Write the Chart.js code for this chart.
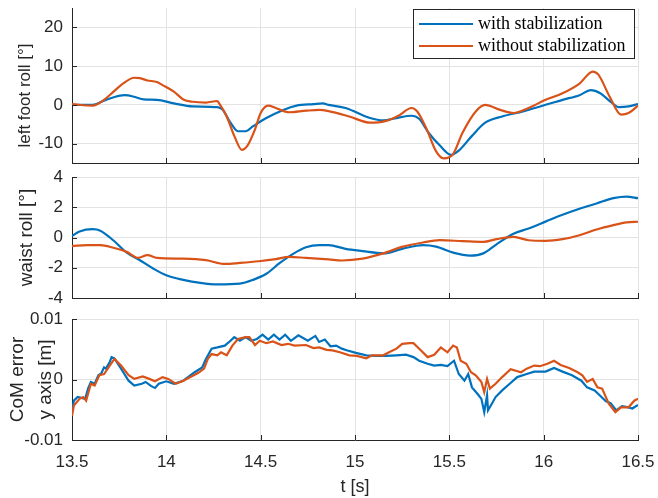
<!DOCTYPE html>
<html>
<head>
<meta charset="utf-8">
<script src="https://cdn.jsdelivr.net/npm/chart.js@4.4.1/dist/chart.umd.min.js"></script>
<style>
  html, body { margin: 0; padding: 0; background: #fff; }
  #wrap { position: relative; width: 658px; height: 498px; overflow: hidden; }
  #wrap canvas { position: absolute; left: 0; }
</style>
</head>
<body>
<div id="wrap">
  <canvas id="footChart" width="658" height="170" style="top:0px;width:658px;height:170px"></canvas>
  <canvas id="waistChart" width="658" height="150" style="top:160px;width:658px;height:150px"></canvas>
  <canvas id="comChart" width="658" height="193" style="top:305px;width:658px;height:193px"></canvas>
</div>
<script>
// --- Data ---
const seriesLabels = ['with stabilization', 'without stabilization'];
const xTicks = [13.5, 14, 14.5, 15, 15.5, 16, 16.5];
const footTicks = [-10, 0, 10, 20];
const waistTicks = [-4, -2, 0, 2, 4];
const comTicks = [-0.01, 0, 0.01];

// left foot roll [deg]
const footWithT = [13.5, 13.61, 13.68, 13.78, 13.83, 13.88, 13.95, 14.04, 14.14, 14.27, 14.30, 14.34, 14.38, 14.42, 14.46, 14.53, 14.62, 14.69, 14.78, 14.83, 14.86, 14.95, 15.08, 15.15, 15.22, 15.30, 15.34, 15.39, 15.45, 15.51, 15.55, 15.62, 15.69, 15.78, 15.89, 15.99, 16.10, 16.19, 16.25, 16.30, 16.35, 16.40, 16.45, 16.5];
const footWith = [0, 0, 1.3, 2.5, 2.1, 1.4, 1.3, 0.4, -0.4, -0.6, -1.3, -4.6, -6.8, -6.8, -5.5, -3.4, -1.3, -0.2, 0.2, 0.4, 0, -0.8, -3.4, -4, -3.4, -2.8, -3.6, -7.2, -10.5, -12.9, -11.8, -8, -4.6, -3, -1.7, -0.3, 1.3, 2.5, 3.8, 3.0, 1.0, -0.6, -0.4, 0.2];
const footWithoutT = [13.5, 13.61, 13.67, 13.72, 13.77, 13.83, 13.86, 13.90, 13.95, 13.98, 14.04, 14.09, 14.14, 14.21, 14.27, 14.28, 14.32, 14.36, 14.40, 14.43, 14.47, 14.50, 14.54, 14.58, 14.65, 14.74, 14.81, 14.86, 14.97, 15.08, 15.16, 15.23, 15.30, 15.33, 15.38, 15.43, 15.47, 15.52, 15.57, 15.64, 15.69, 15.77, 15.84, 15.92, 16.01, 16.10, 16.19, 16.26, 16.29, 16.35, 16.41, 16.45, 16.5];
const footWithout = [0.2, -0.2, 1.3, 3.4, 5.5, 7.0, 6.9, 6.3, 5.9, 5.1, 3.4, 1.4, 0.8, 0.6, 1.0, 0.4, -3.0, -8, -11.6, -10.5, -6.3, -2.1, -0.2, -0.8, -1.9, -1.5, -1.3, -1.6, -3.0, -4.6, -4.2, -2.8, -0.8, -1.7, -6.3, -12, -13.8, -12.7, -7.2, -1.7, 0, -1.3, -2.1, -0.8, 1.3, 3.0, 5.5, 8.6, 7.8, 2.1, -2.5, -2.1, -0.2];

// waist roll [deg]
const waistWithT = [13.5, 13.54, 13.61, 13.65, 13.72, 13.79, 13.86, 13.93, 14.0, 14.09, 14.18, 14.27, 14.39, 14.46, 14.53, 14.60, 14.67, 14.74, 14.81, 14.86, 14.95, 15.04, 15.15, 15.25, 15.36, 15.43, 15.52, 15.61, 15.68, 15.75, 15.84, 15.92, 16.01, 16.10, 16.19, 16.28, 16.37, 16.44, 16.5];
const waistWith = [0.1, 0.4, 0.55, 0.45, -0.2, -1.0, -1.5, -2.05, -2.5, -2.8, -3.0, -3.1, -3.05, -2.8, -2.4, -1.7, -1.1, -0.65, -0.5, -0.5, -0.75, -0.9, -1.05, -0.75, -0.5, -0.6, -1.0, -1.2, -1.05, -0.45, 0.25, 0.6, 1.05, 1.5, 1.9, 2.25, 2.6, 2.7, 2.6];
const waistWithoutT = [13.5, 13.58, 13.65, 13.72, 13.79, 13.85, 13.90, 13.95, 14.09, 14.21, 14.31, 14.39, 14.49, 14.58, 14.65, 14.74, 14.86, 14.93, 15.04, 15.15, 15.25, 15.36, 15.45, 15.57, 15.68, 15.75, 15.84, 15.92, 16.01, 16.10, 16.19, 16.28, 16.37, 16.44, 16.5];
const waistWithout = [-0.57, -0.5, -0.5, -0.68, -0.95, -1.35, -1.17, -1.35, -1.4, -1.5, -1.75, -1.68, -1.57, -1.43, -1.28, -1.35, -1.45, -1.52, -1.4, -1.05, -0.62, -0.33, -0.18, -0.24, -0.29, -0.11, 0.04, -0.18, -0.22, -0.11, 0.15, 0.53, 0.82, 1.0, 1.04];

// CoM error, y axis [m]
const comWithT = [13.50, 13.51, 13.53, 13.57, 13.585, 13.60, 13.62, 13.64, 13.655, 13.67, 13.68, 13.70, 13.71, 13.725, 13.76, 13.80, 13.83, 13.87, 13.89, 13.92, 13.94, 13.96, 14.0, 14.04, 14.09, 14.15, 14.19, 14.21, 14.24, 14.27, 14.31, 14.34, 14.36, 14.39, 14.42, 14.45, 14.48, 14.51, 14.54, 14.57, 14.60, 14.63, 14.66, 14.70, 14.75, 14.79, 14.81, 14.84, 14.87, 14.90, 14.93, 14.96, 15.005, 15.06, 15.11, 15.165, 15.22, 15.27, 15.31, 15.34, 15.385, 15.42, 15.455, 15.49, 15.525, 15.55, 15.58, 15.60, 15.62, 15.65, 15.67, 15.685, 15.70, 15.705, 15.72, 15.745, 15.78, 15.82, 15.86, 15.91, 15.95, 16.01, 16.055, 16.10, 16.15, 16.20, 16.23, 16.27, 16.29, 16.33, 16.355, 16.385, 16.415, 16.45, 16.47, 16.5];
const comWith = [-0.0051, -0.0035, -0.0029, -0.0032, -0.0015, -0.0004, -0.0007, 0.0007, 0.001, 0.002, 0.0018, 0.0029, 0.0037, 0.0035, 0.0018, -0.0002, -0.001, -0.0007, -0.0004, -0.0011, -0.0014, -0.0007, -0.0003, -0.0007, -0.0002, 0.0012, 0.002, 0.0034, 0.0051, 0.0053, 0.0056, 0.0064, 0.007, 0.0064, 0.007, 0.0064, 0.0067, 0.0074, 0.0066, 0.0074, 0.0066, 0.0074, 0.0064, 0.0073, 0.0064, 0.0072, 0.0062, 0.0066, 0.0055, 0.0056, 0.0051, 0.0048, 0.0044, 0.004, 0.0039, 0.0039, 0.004, 0.0041, 0.0037, 0.0031, 0.0026, 0.0023, 0.0024, 0.0022, 0.0031, 0.0009, -0.0002, 0.0009, -0.0013, -0.0024, -0.0032, -0.0054, -0.0026, -0.0051, -0.0043, -0.0029, -0.0018, -0.0007, 0.0004, 0.0009, 0.0013, 0.0013, 0.0019, 0.0013, 0.0007, -0.0002, -0.0013, -0.0018, -0.0024, -0.0036, -0.0039, -0.0051, -0.0044, -0.0046, -0.0048, -0.0042];
const comWithoutT = [13.50, 13.51, 13.54, 13.56, 13.575, 13.60, 13.62, 13.645, 13.67, 13.70, 13.725, 13.76, 13.80, 13.83, 13.875, 13.91, 13.94, 13.98, 14.01, 14.05, 14.09, 14.17, 14.20, 14.22, 14.24, 14.27, 14.29, 14.32, 14.35, 14.38, 14.42, 14.44, 14.47, 14.495, 14.53, 14.565, 14.61, 14.645, 14.68, 14.74, 14.78, 14.81, 14.85, 14.88, 14.92, 14.97, 15.01, 15.06, 15.09, 15.15, 15.18, 15.22, 15.25, 15.29, 15.31, 15.35, 15.385, 15.42, 15.455, 15.49, 15.52, 15.54, 15.56, 15.59, 15.615, 15.64, 15.67, 15.685, 15.70, 15.715, 15.745, 15.78, 15.825, 15.88, 15.91, 15.95, 15.98, 16.02, 16.055, 16.09, 16.135, 16.18, 16.205, 16.23, 16.26, 16.285, 16.31, 16.345, 16.38, 16.41, 16.45, 16.48, 16.5];
const comWithout = [-0.006, -0.0043, -0.0032, -0.0029, -0.0035, -0.0007, -0.001, 0.0007, 0.0009, 0.0023, 0.0034, 0.0023, 0.0007, 0.0001, 0.0005, 0.0001, -0.0003, 0.0004, 0.0001, -0.0007, -0.0002, 0.0011, 0.0018, 0.0034, 0.0042, 0.004, 0.0045, 0.004, 0.0056, 0.0067, 0.007, 0.007, 0.0057, 0.0064, 0.006, 0.0063, 0.0057, 0.0059, 0.0056, 0.0057, 0.0052, 0.0053, 0.0049, 0.0048, 0.0045, 0.004, 0.0039, 0.0035, 0.004, 0.004, 0.0045, 0.0051, 0.0059, 0.006, 0.006, 0.0048, 0.0037, 0.0041, 0.0053, 0.0045, 0.0056, 0.0053, 0.0031, 0.0026, 0.0012, 0.0007, -0.0004, -0.0021, 0.0001, -0.0015, -0.0007, 0.0004, 0.0017, 0.0012, 0.0018, 0.0023, 0.0022, 0.0026, 0.0031, 0.0024, 0.0019, 0.0012, 0.0007, -0.0004, 0.0001, -0.0013, -0.0015, -0.004, -0.0054, -0.0046, -0.0046, -0.0035, -0.0032];

// --- Styling ---
const BLUE = '#0072BD';
const ORANGE = '#D95319';
const AXIS = '#262626';
const GRID = '#e3e3e3';
const SANS = "'Liberation Sans', Arial, sans-serif";
const SERIF = "'Liberation Serif', 'Times New Roman', serif";

function pts(t, v) {
    return t.map((x, i) => ({ x: x, y: v[i] }));
}

// MATLAB-style inward tick marks
const inwardTicks = {
    id: 'inwardTicks',
    afterDraw(chart) {
        const { ctx, chartArea: a, scales } = chart;
        ctx.save();
        ctx.strokeStyle = AXIS;
        ctx.lineWidth = 1;
        ctx.beginPath();
        scales.x.ticks.forEach(t => {
            const px = Math.round(scales.x.getPixelForValue(t.value)) + 0.5;
            ctx.moveTo(px, a.bottom);
            ctx.lineTo(px, a.bottom - 5);
        });
        scales.y.ticks.forEach(t => {
            const py = Math.round(scales.y.getPixelForValue(t.value)) + 0.5;
            ctx.moveTo(a.left, py);
            ctx.lineTo(a.left + 5, py);
        });
        ctx.stroke();
        ctx.restore();
    }
};

// rotated y-axis label(s)
const axisLabel = {
    id: 'axisLabel',
    afterDraw(chart, args, opts) {
        if (!opts.lines) return;
        const { ctx, chartArea: a } = chart;
        ctx.save();
        ctx.fillStyle = AXIS;
        ctx.font = opts.size + 'px ' + SANS;
        ctx.textAlign = 'center';
        ctx.textBaseline = 'middle';
        opts.lines.forEach((line, i) => {
            ctx.save();
            ctx.translate(opts.x + i * opts.lineGap, (a.top + a.bottom) / 2 + (opts.shift || 0));
            ctx.rotate(-Math.PI / 2);
            ctx.fillText(line, 0, 0);
            ctx.restore();
        });
        ctx.restore();
    }
};

// legend box in the top-right corner of the first axes
const boxLegend = {
    id: 'boxLegend',
    afterDraw(chart, args, opts) {
        if (!opts.show) return;
        const { ctx, chartArea: a } = chart;
        const w = 221, h = 49;
        const x0 = a.right - w - 4, y0 = a.top + 1;
        ctx.save();
        ctx.fillStyle = '#fff';
        ctx.fillRect(x0, y0, w, h);
        ctx.strokeStyle = AXIS;
        ctx.lineWidth = 1;
        ctx.strokeRect(x0 + 0.5, y0 + 0.5, w, h);
        ctx.font = '18px ' + SERIF;
        ctx.textBaseline = 'middle';
        chart.data.datasets.forEach((ds, i) => {
            const y = y0 + 15 + i * 22;
            ctx.strokeStyle = ds.borderColor;
            ctx.lineWidth = 2.2;
            ctx.beginPath();
            ctx.moveTo(x0 + 6, y);
            ctx.lineTo(x0 + 60, y);
            ctx.stroke();
            ctx.fillStyle = '#000';
            ctx.fillText(ds.label, x0 + 65, y);
        });
        ctx.restore();
    }
};

function makeChart(id, cfg) {
    const ctx = document.getElementById(id).getContext('2d');
    const line = (i, t, v) => ({
        label: seriesLabels[i],
        data: pts(t, v),
        borderColor: i === 0 ? BLUE : ORANGE,
        borderWidth: 2.2,
        pointRadius: 0,
        fill: false,
        cubicInterpolationMode: cfg.smooth ? 'monotone' : 'default',
        tension: 0,
        order: i === 0 ? 1 : 0
    });
    return new Chart(ctx, {
        type: 'line',
        data: { datasets: [line(0, cfg.t[0], cfg.v[0]), line(1, cfg.t[1], cfg.v[1])] },
        options: {
            responsive: false,
            animation: false,
            events: [],
            layout: { padding: { top: cfg.padTop, right: 20, bottom: 0, left: 0 } },
            plugins: {
                legend: { display: false },
                tooltip: { enabled: false },
                axisLabel: cfg.label,
                boxLegend: { show: !!cfg.legend }
            },
            scales: {
                x: {
                    type: 'linear',
                    min: 13.5,
                    max: 16.5,
                    afterBuildTicks: s => { s.ticks = xTicks.map(v => ({ value: v })); },
                    afterFit: s => { s.height = cfg.xHeight; s.paddingLeft = 0; s.paddingRight = 0; },
                    grid: { color: GRID, drawTicks: false },
                    border: { color: AXIS, width: 1 },
                    ticks: {
                        display: !!cfg.xLabels,
                        padding: 12,
                        color: AXIS,
                        maxRotation: 0,
                        autoSkip: false,
                        font: { family: SANS, size: 17 },
                        callback: v => String(v)
                    },
                    title: {
                        display: !!cfg.xLabels,
                        text: 't [s]',
                        color: AXIS,
                        padding: { top: 0, bottom: 0 },
                        font: { family: SANS, size: 18 }
                    }
                },
                y: {
                    min: cfg.yMin,
                    max: cfg.yMax,
                    afterBuildTicks: s => { s.ticks = cfg.yTicks.map(v => ({ value: v })); },
                    afterFit: s => { s.width = 72; s.paddingTop = 0; s.paddingBottom = 0; },
                    grid: { color: GRID, drawTicks: false },
                    border: { color: AXIS, width: 1 },
                    ticks: {
                        padding: 9,
                        color: AXIS,
                        font: { family: SANS, size: 17 },
                        callback: v => String(v)
                    }
                }
            }
        },
        plugins: [inwardTicks, axisLabel, boxLegend]
    });
}

makeChart('footChart', {
    t: [footWithT, footWithoutT], v: [footWith, footWithout],
    smooth: true, padTop: 8, xHeight: 7,
    yMin: -15, yMax: 25, yTicks: footTicks,
    label: { lines: ['left foot roll [°]'], x: 25, size: 17, lineGap: 0, shift: 10 },
    legend: true
});

makeChart('waistChart', {
    t: [waistWithT, waistWithoutT], v: [waistWith, waistWithout],
    smooth: true, padTop: 17, xHeight: 12,
    yMin: -4, yMax: 4, yTicks: waistTicks,
    label: { lines: ['waist roll [°]'], x: 27, size: 19, lineGap: 0 }
});

makeChart('comChart', {
    t: [comWithT, comWithoutT], v: [comWith, comWithout],
    smooth: false, padTop: 14, xHeight: 58,
    yMin: -0.01, yMax: 0.01, yTicks: comTicks,
    label: { lines: ['CoM error', 'y axis [m]'], x: 17.5, size: 19, lineGap: 28 },
    xLabels: true
});
</script>
</body>
</html>
